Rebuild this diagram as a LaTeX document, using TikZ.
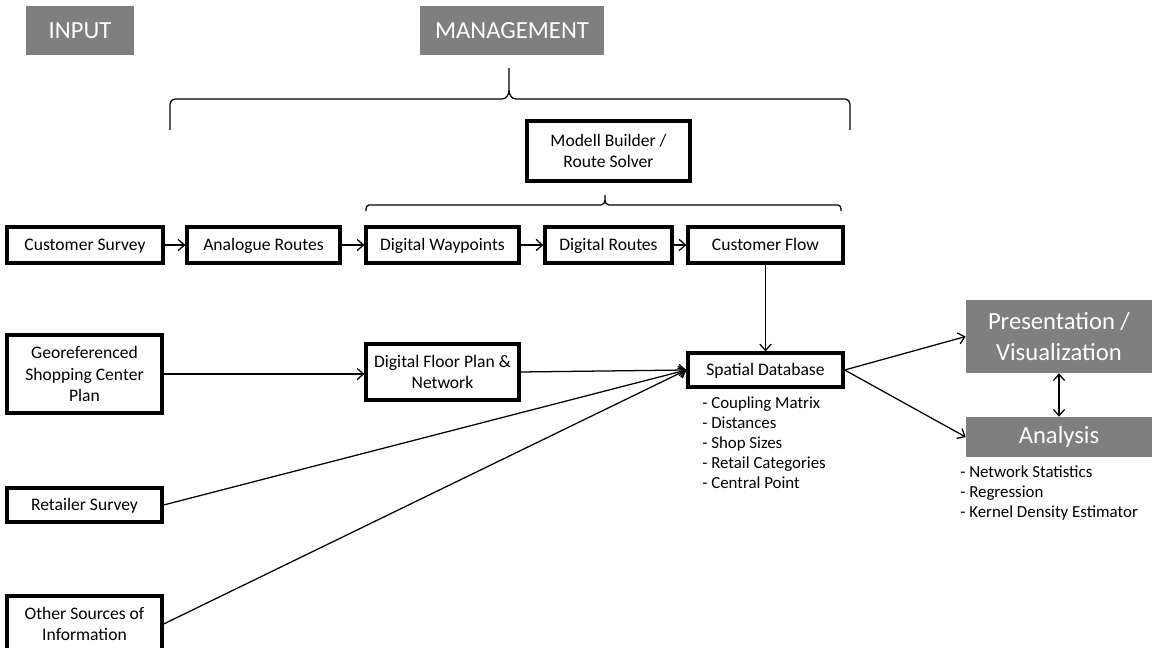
\documentclass[tikz,border=0pt]{standalone}
\usepackage{fontspec}
\setmainfont{Carlito}
\usepackage{xcolor}
\usetikzlibrary{arrows.meta}
\definecolor{headgray}{RGB}{127,127,127}

\tikzset{
  box/.style={draw, line width=2.3pt, align=center, inner sep=0pt,
    font=\fontsize{12.5}{15.5}\selectfont},
  onebox/.style={box, text height=0.82em, text depth=0.1em},
  headbox/.style={fill=headgray, text=white, align=center, inner sep=0pt,
    font=\fontsize{17.5}{22.5}\selectfont},
  link/.style={->, line width=0.9pt},
  notes/.style={align=left, anchor=north west, inner sep=0pt,
    font=\fontsize{12}{14.2}\selectfont},
  brace/.style={line width=0.9pt}
}

\begin{document}
\begin{tikzpicture}[x=0.025cm, y=-0.025cm, >={Straight Barb[length=4.5pt,width=8pt]}]
  \useasboundingbox (0,0) rectangle (1152,648);

  % Headings
  \node[headbox, minimum width=2.7cm, minimum height=1.225cm] (input) at (80,30.5) {INPUT};
  \node[headbox, minimum width=4.6cm, minimum height=1.225cm] (mgmt) at (512,30.5) {MANAGEMENT};

  % Braces
  \draw[brace] (170,130) -- (170,104) to[out=90,in=180] (175,99) -- (502,99)
    to[out=0,in=-90] (509,90) -- (509,68) -- (509,90) to[out=-90,in=180] (516,99)
    -- (845,99) to[out=0,in=90] (850,104) -- (850,130);
  \draw[brace] (366,211) -- (366,209) to[out=90,in=180] (369,205) -- (601,205)
    to[out=0,in=-90] (605,200) -- (605,195) -- (605,200) to[out=-90,in=180] (609,205)
    -- (838,205) to[out=0,in=90] (841,209) -- (841,211);

  % Route chain
  \node[box, minimum width=4.075cm, minimum height=1.5cm] (modell) at (608.5,151) {Modell Builder /\\Route Solver};
  \node[onebox, minimum width=3.9cm, minimum height=0.9cm] (survey) at (85,245) {Customer Survey};
  \node[onebox, minimum width=3.825cm, minimum height=0.9cm] (analog) at (263.5,245) {Analogue Routes};
  \node[onebox, minimum width=3.825cm, minimum height=0.9cm] (waypts) at (442.5,245) {Digital Waypoints};
  \node[onebox, minimum width=3.175cm, minimum height=0.9cm] (droutes) at (608.5,245) {Digital Routes};
  \node[onebox, minimum width=3.875cm, minimum height=0.9cm] (custflow) at (765.5,245) {Customer Flow};
  \draw[link] (survey) -- (analog);
  \draw[link] (analog) -- (waypts);
  \draw[link] (waypts) -- (droutes);
  \draw[link] (droutes) -- (custflow);

  % Other inputs
  \node[box, minimum width=3.875cm, minimum height=1.95cm] (georef) at (84.5,374) {Georeferenced\\Shopping Center\\Plan};
  \node[box, minimum width=3.825cm, minimum height=1.4cm] (floorplan) at (442.5,372) {Digital Floor Plan \&\\Network};
  \node[onebox, minimum width=3.875cm, minimum height=0.85cm] (retailer) at (84.5,505) {Retailer Survey};
  \node[box, minimum width=3.875cm, minimum height=1.4cm] (other) at (84.5,624) {Other Sources of\\Information};

  % Database
  \node[onebox, minimum width=3.875cm, minimum height=0.85cm] (spatial) at (765.5,370) {Spatial Database};
  \node[notes] (dblist) at (702,397) {- Coupling Matrix\\- Distances\\- Shop Sizes\\- Retail Categories\\- Central Point};
  \draw[link] (custflow) -- (spatial);
  \draw[link] (georef.east) -- (floorplan.west |- georef.east);
  \draw[link] (floorplan.east) -- (spatial.west);
  \draw[link] (retailer.east) -- (spatial.west);
  \draw[link] (other.east) -- (spatial.west);

  % Output
  \node[headbox, minimum width=4.65cm, minimum height=1.825cm] (present) at (1059,336.5) {Presentation /\\Visualization};
  \node[headbox, minimum width=4.65cm, minimum height=1.0cm] (analysis) at (1059,437) {Analysis};
  \node[notes] (anlist) at (960,466) {- Network Statistics\\- Regression\\- Kernel Density Estimator};
  \draw[link] (spatial.east) -- (present.west);
  \draw[link] (spatial.east) -- (analysis.west);
  \draw[<->, line width=0.9pt] (present) -- (analysis);
\end{tikzpicture}
\end{document}
